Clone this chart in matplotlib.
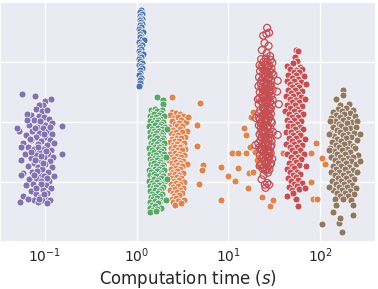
import numpy as np
import matplotlib
matplotlib.use("Agg")
import matplotlib.pyplot as plt
import seaborn as sns

# computation time (s) and score for each method
purple_time = [0.056, 0.077, 0.099, 0.115, 0.095, 0.086, 0.080, 0.092, 0.104, 0.071,
               0.064, 0.085, 0.098, 0.110, 0.076, 0.089, 0.120, 0.067, 0.101, 0.082,
               0.094, 0.155, 0.052, 0.073, 0.108, 0.087, 0.118, 0.062, 0.079, 0.099,
               0.071, 0.091, 0.112, 0.058, 0.083, 0.104, 0.126, 0.066, 0.076, 0.095,
               0.115, 0.087, 0.061, 0.107, 0.080, 0.097, 0.122, 0.070, 0.055, 0.089,
               0.112, 0.154, 0.075, 0.101, 0.065, 0.084, 0.118, 0.093, 0.072, 0.108,
               0.058, 0.086, 0.098, 0.079, 0.124, 0.067, 0.091, 0.110, 0.074, 0.102,
               0.062, 0.085, 0.117, 0.095, 0.071, 0.080, 0.106, 0.057, 0.089, 0.099,
               0.075, 0.112, 0.065, 0.093, 0.054, 0.083, 0.104,
               0.088, 0.078, 0.097, 0.069, 0.084, 0.102, 0.090, 0.078, 0.095, 0.082,
               0.105, 0.076, 0.090, 0.079, 0.097, 0.085, 0.070, 0.112, 0.063, 0.049,
               0.055, 0.055]
purple_score = [2.47, 2.44, 2.36, 2.39, 2.28, 2.29, 2.22, 2.18, 2.20, 2.12,
                2.13, 2.10, 2.08, 2.05, 2.03, 1.99, 1.98, 1.96, 1.95, 1.92,
                1.90, 1.94, 1.85, 1.86, 1.86, 1.82, 1.80, 1.78, 1.76, 1.75,
                1.70, 1.69, 1.70, 1.66, 1.64, 1.62, 1.65, 1.58, 1.55, 1.56,
                1.54, 1.50, 1.48, 1.47, 1.45, 1.42, 1.43, 1.40, 1.38, 1.37,
                1.35, 1.47, 1.33, 1.30, 1.27, 1.26, 1.25, 1.22, 1.18, 1.17,
                1.15, 1.13, 1.10, 1.08, 1.10, 1.05, 1.03, 1.02, 0.98, 0.96,
                0.95, 0.92, 0.90, 0.88, 0.85, 0.80, 0.82, 0.78, 0.76, 0.72,
                0.70, 0.70, 0.72, 0.70, 0.68, 0.67, 0.66,
                2.02, 1.90, 1.81, 1.72, 1.58, 1.52, 1.44, 1.37, 1.32, 1.19,
                1.08, 1.12, 0.97, 0.91, 0.80, 0.73, 1.50, 1.92, 2.04, 1.91,
                1.59, 1.13]

blue_time = [1.12, 1.10, 1.13, 1.09, 1.12, 1.15, 1.08, 1.11, 1.14, 1.09,
             1.12, 1.07, 1.10, 1.16, 1.08, 1.12, 1.09, 1.14, 1.20, 1.07,
             1.11, 1.15, 1.08, 1.12, 1.06, 1.10, 1.17, 1.08, 1.12, 1.05,
             1.09, 1.13, 1.07, 1.11, 1.15, 1.08, 1.10, 1.07, 1.12, 1.08,
             1.10, 1.07]
blue_score = [3.87, 3.83, 3.80, 3.77, 3.74, 3.72, 3.70, 3.67, 3.64, 3.62,
              3.58, 3.55, 3.52, 3.50, 3.47, 3.44, 3.41, 3.38, 3.36, 3.34,
              3.31, 3.28, 3.25, 3.22, 3.19, 3.16, 3.14, 3.11, 3.08, 3.05,
              3.02, 2.99, 2.96, 2.93, 2.91, 2.87, 2.82, 2.78, 2.74, 2.70,
              2.66, 2.61]

green_time = [1.65, 1.92, 1.93,
              1.42, 1.58, 1.76, 1.90, 1.50, 1.68, 1.84, 1.38, 1.55, 1.73, 1.98,
              1.46, 1.62, 1.81, 1.40, 1.57, 1.70, 1.93, 1.51, 1.66, 1.85,
              1.37, 1.60, 1.78, 2.02, 1.47, 1.69, 1.88, 1.41, 1.56, 1.74, 1.96,
              1.52, 1.64, 1.83, 1.38, 1.60, 1.79, 1.95, 1.48, 1.68, 1.87,
              1.42, 1.55, 1.73, 2.00, 1.50, 1.65, 1.82, 1.37, 1.59, 1.77, 1.93,
              1.46, 1.70, 1.86, 1.40, 1.56, 1.75, 1.98, 1.52, 1.63, 1.84,
              1.38, 1.58, 1.71, 1.91, 1.47, 1.67, 1.80, 1.42, 1.54, 1.76, 1.95,
              1.50, 1.62, 1.87, 1.36, 1.57, 1.73, 1.99, 1.45, 1.66, 1.82,
              1.40, 1.53, 1.78, 1.94, 1.49, 1.61, 1.86, 1.37, 1.56, 1.72, 2.03,
              1.46, 1.68, 1.84, 1.41, 1.55, 1.76, 1.92, 1.51, 1.64, 1.83,
              1.38, 1.59, 1.74, 1.47, 1.69, 1.88, 1.42, 1.54, 1.79,
              1.50, 1.65, 1.90, 1.39, 1.60, 1.75, 1.46, 1.70,
              1.41, 1.57, 1.84, 1.52, 1.68, 1.40, 1.63,
              2.12, 2.08, 2.14, 2.10]
green_score = [2.42, 2.37, 2.31,
               2.20, 2.22, 2.19, 2.21, 2.16, 2.18, 2.15, 2.11, 2.13, 2.12, 2.10,
               2.07, 2.09, 2.06, 2.02, 2.04, 2.03, 2.01, 1.98, 2.00, 1.97,
               1.93, 1.95, 1.94, 1.92, 1.89, 1.91, 1.88, 1.84, 1.86, 1.85, 1.83,
               1.80, 1.82, 1.79, 1.75, 1.77, 1.76, 1.74, 1.71, 1.73, 1.70,
               1.66, 1.68, 1.67, 1.65, 1.62, 1.64, 1.61, 1.57, 1.59, 1.58, 1.56,
               1.53, 1.55, 1.52, 1.48, 1.50, 1.49, 1.47, 1.44, 1.46, 1.43,
               1.39, 1.41, 1.40, 1.38, 1.35, 1.37, 1.34, 1.30, 1.32, 1.31, 1.29,
               1.26, 1.28, 1.25, 1.21, 1.23, 1.22, 1.20, 1.17, 1.19, 1.16,
               1.12, 1.14, 1.13, 1.11, 1.08, 1.10, 1.07, 1.03, 1.05, 1.04, 1.02,
               0.99, 1.01, 0.98, 0.94, 0.96, 0.95, 0.93, 0.90, 0.92, 0.89,
               0.85, 0.87, 0.86, 0.81, 0.83, 0.80, 0.76, 0.78, 0.77,
               0.72, 0.74, 0.71, 0.67, 0.69, 0.68, 0.63, 0.65,
               0.58, 0.60, 0.57, 0.54, 0.56, 0.50, 0.52,
               1.88, 1.42, 1.05, 0.70]

orange_time = [2.45, 2.70, 2.30, 2.95, 3.20, 2.55, 2.80, 2.40, 3.05, 3.45,
               2.62, 2.88, 2.28, 2.75, 3.15, 2.50, 2.98, 3.55, 2.35, 2.68,
               3.10, 2.58, 2.85, 3.35, 2.42, 2.72, 3.02, 2.30, 2.60, 2.92,
               3.25, 2.48, 2.78, 3.08, 2.36, 2.65, 2.95, 3.40, 2.52, 2.82,
               3.12, 2.32, 2.62, 2.90, 3.28, 2.45, 2.75, 3.05, 2.28, 2.58,
               2.88, 3.18, 2.40, 2.70, 3.00, 3.50, 2.55, 2.85, 3.15, 2.34,
               2.66, 2.97, 2.48, 2.78, 3.22, 2.30, 2.60, 2.92, 2.44, 2.72,
               3.08, 2.56, 2.86, 3.30, 2.38, 2.68, 3.00, 2.50, 2.80, 3.18,
               2.33, 2.62, 2.95, 2.46, 2.74, 3.10, 2.58, 2.90, 2.40, 2.70,
               3.25, 2.52, 2.85, 2.62, 3.02]
orange_score = [2.17, 2.16, 2.12, 2.13, 2.10, 2.07, 2.09, 2.02, 2.03, 2.01,
                1.97, 1.99, 1.92, 1.94, 1.93, 1.87, 1.89, 1.86, 1.82, 1.84,
                1.83, 1.77, 1.79, 1.76, 1.72, 1.74, 1.73, 1.67, 1.69, 1.68,
                1.66, 1.62, 1.64, 1.61, 1.57, 1.59, 1.58, 1.56, 1.52, 1.54,
                1.53, 1.47, 1.49, 1.48, 1.46, 1.42, 1.44, 1.43, 1.37, 1.39,
                1.38, 1.36, 1.32, 1.34, 1.33, 1.31, 1.27, 1.29, 1.28, 1.22,
                1.24, 1.23, 1.17, 1.19, 1.16, 1.12, 1.14, 1.13, 1.07, 1.09,
                1.08, 1.02, 1.04, 1.01, 0.97, 0.99, 0.98, 0.92, 0.94, 0.91,
                0.87, 0.89, 0.88, 0.82, 0.84, 0.83, 0.77, 0.79, 0.72, 0.74,
                0.71, 0.67, 0.69, 0.63, 0.65]
# orange runs that took much longer
orange_tail_time = [2.41, 3.60, 4.86, 4.51, 4.51, 5.25, 5.12, 4.74, 8.24, 8.24,
                    9.83, 11.7, 10.9, 12.9, 12.9, 14.7, 15.4, 15.4, 16.2, 17.1,
                    17.5, 18.4, 16.6, 18.4, 19.4, 20.9, 23.1, 28.2, 30.4, 39.1,
                    89.5, 83.0, 91.8, 107.0, 112.0, 20.3, 21.3, 78.9, 104.0, 78.9]
orange_tail_score = [2.42, 2.09, 2.32, 1.96, 1.61, 1.29, 1.20, 0.98, 0.70, 1.26,
                     1.11, 1.03, 1.49, 1.49, 1.24, 1.91, 1.49, 1.79, 0.90, 1.59,
                     2.09, 2.17, 1.16, 1.18, 1.51, 1.43, 0.76, 0.60, 0.70, 1.49,
                     1.66, 0.73, 0.73, 1.39, 1.31, 1.38, 1.28, 1.49, 1.41, 1.01]

red_open_time = [26.5, 24.0, 27.8, 26.0, 24.8, 27.5, 23.2, 26.2, 28.5,
                 22.8, 25.6, 28.9, 24.1, 26.8, 30.2, 21.9, 25.0, 27.9, 23.5, 26.3, 29.5,
                 22.2, 24.7, 28.2, 23.9, 26.9, 31.0, 21.6, 25.3, 28.0, 23.0, 26.1, 29.2,
                 22.5, 24.4, 27.4, 21.3, 25.8, 28.7, 23.6, 26.6, 30.4, 22.0, 24.9, 27.9,
                 23.3, 25.9, 29.3, 21.8, 24.2, 27.1, 22.9, 26.4, 28.6, 21.4, 25.1, 30.0,
                 23.8, 26.7, 28.3, 22.3, 24.6, 27.6, 21.7, 25.5, 29.1, 23.4, 26.2, 28.1,
                 22.1, 24.8, 27.3, 23.1, 25.7, 29.8, 21.5, 24.3, 27.0, 22.7, 26.5, 28.8,
                 23.7, 25.2, 30.6, 21.9, 24.5, 27.7, 23.2, 26.0, 28.4, 22.4, 25.4, 29.6,
                 21.2, 24.0, 27.2, 23.5, 26.8, 28.9, 22.6, 25.0, 27.5, 24.2, 26.3, 29.0,
                 22.0, 25.6, 28.2, 23.3, 26.9, 30.1, 24.7, 27.4, 23.0, 25.9, 28.6,
                 24.4, 27.1, 25.2, 28.0,
                 27.0, 26.5, 25.0, 27.8, 25.5, 23.0, 24.2,
                 34.5, 34.0, 20.0, 34.5, 35.5, 19.8,
                 23.0, 27.0, 25.9, 29.8, 24.0, 27.2, 26.0, 29.0, 23.0, 25.3,
                 28.3, 24.5, 27.5, 21.0, 30.5, 23.5, 26.0, 25.0, 28.9, 24.0,
                 27.0, 21.5, 25.9, 29.3, 22.5, 24.0, 27.0, 22.9, 28.0, 24.8,
                 27.0, 25.6, 29.5, 21.7, 23.0, 28.0, 24.0, 27.4, 26.0, 29.2,
                 22.0, 23.5, 26.5]
red_open_score = [3.57, 3.44, 3.49, 3.47, 3.32, 3.27, 3.20, 3.15, 3.10,
                  3.05, 3.06, 3.04, 3.00, 3.01, 2.99, 2.95, 2.96, 2.94, 2.90, 2.91, 2.89,
                  2.85, 2.86, 2.84, 2.80, 2.81, 2.79, 2.75, 2.76, 2.74, 2.70, 2.71, 2.69,
                  2.65, 2.66, 2.64, 2.60, 2.61, 2.59, 2.55, 2.56, 2.54, 2.50, 2.51, 2.49,
                  2.45, 2.46, 2.44, 2.40, 2.41, 2.39, 2.35, 2.36, 2.34, 2.30, 2.31, 2.29,
                  2.25, 2.26, 2.24, 2.20, 2.21, 2.19, 2.15, 2.16, 2.14, 2.10, 2.11, 2.09,
                  2.05, 2.06, 2.04, 2.00, 2.01, 1.99, 1.95, 1.96, 1.94, 1.90, 1.91, 1.89,
                  1.85, 1.86, 1.84, 1.80, 1.81, 1.79, 1.75, 1.76, 1.74, 1.70, 1.71, 1.69,
                  1.65, 1.66, 1.64, 1.60, 1.61, 1.59, 1.55, 1.56, 1.54, 1.50, 1.51, 1.49,
                  1.45, 1.46, 1.44, 1.40, 1.41, 1.39, 1.35, 1.36, 1.30, 1.31, 1.29,
                  1.25, 1.26, 1.20, 1.21,
                  1.16, 0.99, 0.96, 0.96, 0.91, 1.05, 1.12,
                  2.69, 2.51, 2.07, 1.79, 2.30, 1.62,
                  2.93, 2.92, 2.83, 2.82, 2.73, 2.72, 2.63, 2.62, 2.58, 2.53,
                  2.52, 2.43, 2.42, 2.38, 2.37, 2.33, 2.32, 2.23, 2.22, 2.13,
                  2.12, 2.08, 2.03, 2.02, 1.98, 1.93, 1.92, 1.83, 1.82, 1.73,
                  1.72, 1.63, 1.62, 1.58, 1.53, 1.52, 1.43, 1.42, 1.33, 1.32,
                  1.28, 1.23, 1.22]

red_time = [54.0, 58.0, 53.0, 44.0, 56.5, 50.5, 60.5,
            47.5, 55.0, 63.0, 51.5, 59.0, 45.0, 54.0, 67.0, 49.0, 57.5,
            43.5, 52.5, 61.5, 47.0, 55.5, 70.0, 50.0, 59.5, 44.5, 53.5, 64.0,
            48.0, 57.0, 42.5, 51.0, 62.0, 46.5, 55.0, 68.0, 49.5, 58.5,
            44.0, 53.0, 63.5, 47.5, 56.5, 42.0, 51.5, 60.5, 46.0, 54.5, 66.0,
            49.0, 58.0, 43.5, 52.0, 62.5, 47.0, 56.0, 45.0, 50.5, 60.0,
            53.5, 64.5, 43.0, 48.5, 57.5, 51.0, 61.0, 45.5, 54.5, 69.0,
            49.5, 58.5, 42.5, 52.5, 63.0, 46.5, 56.0, 50.0, 60.5,
            44.0, 53.5, 66.5, 48.0, 57.5, 51.5, 62.0, 45.5, 55.0,
            49.0, 59.0, 71.0, 43.5, 52.5, 47.0, 56.5, 50.5, 61.0,
            45.0, 54.0, 48.5, 58.0, 52.0, 63.0, 46.0, 55.5, 50.0, 59.5,
            43.5, 55.0, 51.0, 57.5, 68.0]
red_score = [3.20, 3.19, 3.09, 2.94, 3.02, 2.98, 2.92,
             2.88, 2.87, 2.89, 2.83, 2.84, 2.78, 2.79, 2.77, 2.73, 2.72,
             2.68, 2.69, 2.67, 2.63, 2.62, 2.64, 2.58, 2.59, 2.53, 2.54, 2.52,
             2.48, 2.47, 2.43, 2.44, 2.42, 2.38, 2.37, 2.39, 2.33, 2.34,
             2.28, 2.29, 2.27, 2.23, 2.22, 2.18, 2.19, 2.17, 2.13, 2.12, 2.14,
             2.08, 2.09, 2.03, 2.04, 2.02, 1.98, 1.97, 1.93, 1.94, 1.92,
             1.88, 1.89, 1.83, 1.84, 1.82, 1.78, 1.79, 1.73, 1.74, 1.72,
             1.68, 1.67, 1.63, 1.64, 1.62, 1.58, 1.59, 1.53, 1.54,
             1.48, 1.49, 1.47, 1.43, 1.42, 1.38, 1.39, 1.33, 1.34,
             1.28, 1.29, 1.27, 1.23, 1.24, 1.18, 1.17, 1.13, 1.14,
             1.08, 1.09, 1.03, 1.04, 0.98, 0.99, 0.93, 0.94, 0.88, 0.89,
             0.78, 0.73, 0.82, 0.60, 0.90]

brown_time = [176, 180, 150, 205, 165,
              158, 190, 230, 140, 172, 210, 150, 184, 240, 133, 165, 200,
              145, 177, 222, 255, 160, 195, 137, 170, 212, 245, 152, 186,
              130, 164, 202, 232, 143, 178, 216, 155, 192, 250, 135, 168, 205,
              148, 182, 226, 128, 160, 196, 240, 142, 174, 212, 154, 188, 258,
              133, 166, 204, 230, 146, 180, 218, 158, 194, 246, 138, 170, 208,
              150, 185, 228, 131, 162, 200, 252, 144, 176, 215, 156, 190, 236,
              136, 168, 206, 148, 182, 224, 160, 196, 244, 140, 172, 212,
              152, 186, 232, 164, 200, 146, 178, 220,
              275, 270, 130, 124, 125, 124, 104,
              172, 160, 137, 227, 150, 165, 227]
brown_score = [2.54, 2.46, 2.39, 2.30, 2.28,
               2.22, 2.23, 2.21, 2.17, 2.18, 2.16, 2.12, 2.13, 2.11, 2.07, 2.08, 2.06,
               2.02, 2.03, 2.01, 2.02, 1.97, 1.98, 1.92, 1.93, 1.91, 1.92, 1.87, 1.88,
               1.82, 1.83, 1.81, 1.82, 1.77, 1.78, 1.76, 1.72, 1.73, 1.71, 1.67, 1.68, 1.66,
               1.62, 1.63, 1.61, 1.57, 1.58, 1.56, 1.57, 1.52, 1.53, 1.51, 1.47, 1.48, 1.46,
               1.42, 1.43, 1.41, 1.42, 1.37, 1.38, 1.36, 1.32, 1.33, 1.31, 1.27, 1.28, 1.26,
               1.22, 1.23, 1.21, 1.17, 1.18, 1.16, 1.17, 1.12, 1.13, 1.11, 1.07, 1.08, 1.06,
               1.02, 1.03, 1.01, 0.97, 0.98, 0.96, 0.92, 0.93, 0.91, 0.87, 0.88, 0.86,
               0.82, 0.83, 0.81, 0.77, 0.78, 0.72, 0.73, 0.71,
               1.80, 1.35, 2.02, 1.81, 1.54, 0.93, 0.30,
               0.17, 0.32, 0.50, 0.45, 0.63, 0.40, 0.62]

sns.set_theme(style="darkgrid")
pal = sns.color_palette("deep")

fig = plt.figure(figsize=(3.78, 2.89), dpi=100)
ax = fig.add_axes([0.0, 0.161, 0.994, 0.832])

kw = dict(s=25, edgecolor="white", linewidth=0.5)
ax.scatter(purple_time, purple_score, color=pal[4], **kw)
ax.scatter(blue_time, blue_score, color=pal[0], **kw)
ax.scatter(orange_time, orange_score, color=pal[1], **kw)
ax.scatter(green_time, green_score, color=pal[2], **kw)
ax.scatter(orange_tail_time, orange_tail_score, color=pal[1], **kw)
ax.scatter(red_open_time, red_open_score, s=25, facecolors="none",
           edgecolors=pal[3], linewidth=0.9)
ax.scatter(red_time, red_score, color=pal[3], **kw)
ax.scatter(brown_time, brown_score, color=pal[5], **kw)

ax.set_xscale("log")
ax.set_xlim(0.0323, 405)
ax.set_ylim(0, 4)
ax.set_yticks([1, 2, 3])
ax.set_yticklabels([])
ax.tick_params(axis="both", which="both", length=0)
ax.tick_params(axis="x", labelsize=10, pad=3)
ax.set_xlabel("Computation time ($s$)", fontsize=12, labelpad=2)

fig.savefig("out.png", dpi=100)
